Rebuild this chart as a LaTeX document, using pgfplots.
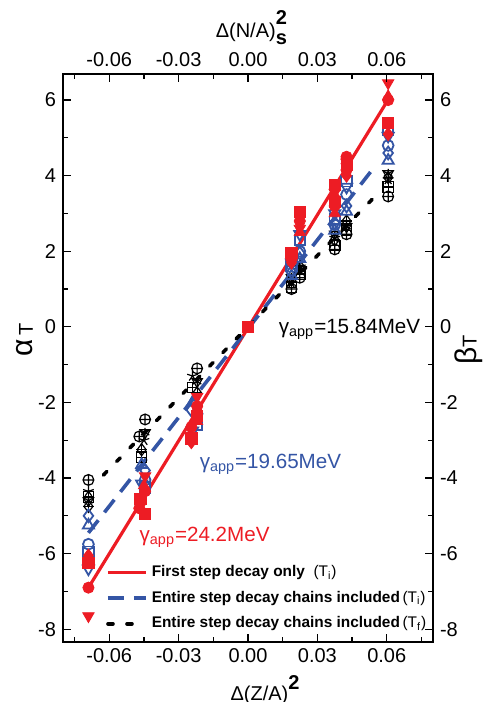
\documentclass[border=0pt]{standalone}
\usepackage{pgfplots}
\usepackage{pgfplotstable}
\pgfplotsset{compat=1.18}
\usepackage{fontspec}
\setmainfont{Liberation Sans}
\usetikzlibrary{plotmarks}
\definecolor{myred}{RGB}{237,28,36}
\definecolor{myblue}{RGB}{52,85,165}

% red series
\pgfplotstableread{
x y
-0.069 -6.25
-0.0465 -4.55
-0.0445 -4.95
-0.0245 -2.95
-0.022 -2.35
0 0
0.0188 1.95
0.0224 3.05
0.0375 3.75
0.0375 3.3
0.0426 4.3
0.0606 5.4
}\redsq
\pgfplotstableread{
x y
-0.069 -6.9
-0.047 -4.8
-0.0445 -4.35
-0.0245 -2.65
-0.022 -2.1
0.0188 1.8
0.0224 2.8
0.0375 3.2
0.0426 4.5
0.0426 4.15
0.0606 6.0
}\redci
\pgfplotstableread{
x y
-0.069 -7.65
-0.0445 -3.95
-0.022 -1.85
0.0188 2.0
0.0224 2.6
0.0375 3.55
0.0426 4.35
0.0606 6.45
}\redtd
\pgfplotstableread{
x y
-0.069 -6.05
-0.0465 -4.7
-0.0245 -3.05
0.0188 1.7
0.0375 3.45
0.0426 4.0
0.0606 5.1
}\reddi
\pgfplotstableread{
x y
-0.069 -6.1
-0.045 -4.2
-0.022 -2.5
0.0188 1.85
0.0224 2.5
0.0375 3.0
0.0426 4.4
0.0606 6.1
}\redtu
% blue series
\pgfplotstableread{
x y
-0.069 -5.95
-0.0445 -4.25
-0.022 -2.6
0 0
0.0188 1.6
0.0224 2.3
0.0375 2.85
0.0426 3.85
0.0606 5.2
}\bluesq
\pgfplotstableread{
x y
-0.069 -5.75
-0.0445 -4.05
-0.022 -2.3
0.0188 1.5
0.0224 2.0
0.0375 2.7
0.0426 3.5
0.0606 4.8
}\blueci
\pgfplotstableread{
x y
-0.069 -5.25
-0.046 -3.65
-0.024 -2.0
0.0188 1.35
0.0224 1.8
0.0375 2.55
0.0426 3.05
0.0606 4.4
}\bluetu
\pgfplotstableread{
x y
-0.069 -5.0
-0.0445 -3.8
-0.0245 -2.2
0.0188 1.45
0.0224 1.95
0.0375 2.75
0.0426 3.2
0.0606 4.6
}\bluedi
\pgfplotstableread{
x y
-0.069 -6.4
-0.046 -4.15
-0.024 -2.75
0.0188 1.7
0.0224 2.45
0.0375 3.0
0.0426 3.7
0.0606 5.05
}\bluetd
% black series
\pgfplotstableread{
x y
-0.069 -4.05
-0.047 -2.9
-0.0445 -2.45
-0.022 -1.1
0.0188 1.0
0.0224 1.3
0.0375 2.05
0.0426 2.45
0.0606 3.45
}\blkop
\pgfplotstableread{
x y
-0.069 -4.35
-0.045 -3.0
-0.024 -1.3
0.0188 1.15
0.0224 1.5
0.0375 2.35
0.0426 2.7
0.0606 3.9
}\blkst
\pgfplotstableread{
x y
-0.069 -4.5
-0.046 -3.45
-0.024 -1.6
0 0
0.0188 1.05
0.0224 1.4
0.0375 2.15
0.0426 2.55
0.0606 3.7
}\blksq
\pgfplotstableread{
x y
-0.069 -4.75
-0.046 -3.25
-0.022 -1.75
0.0188 1.25
0.0224 1.6
0.0375 2.3
0.0426 2.8
0.0606 3.95
}\blkdi
\pgfplotstableread{
x y
-0.069 -4.6
-0.0445 -2.8
-0.022 -1.45
0.0188 1.3
0.0224 1.55
0.0375 2.45
0.0426 2.65
0.0606 4.05
}\blktd

\pgfplotsset{
  base/.style={
    width=185pt, height=283.85pt, scale only axis,
    xmin=-0.08, xmax=0.08, ymin=-8.33, ymax=6.69,
    scaled x ticks=false, scaled y ticks=false,
    xtick={-0.06,-0.03,0,0.03,0.06},
    minor xtick={-0.075,-0.045,-0.015,0.015,0.045,0.075},
    ytick={-8,-6,-4,-2,0,2,4,6},
    minor ytick={-7,-5,-3,-1,1,3,5},
    xticklabels={-0.06,-0.03,0.00,0.03,0.06},
    yticklabels={-8,-6,-4,-2,0,2,4,6},
    tick align=inside,
    major tick length=4pt, minor tick length=2.5pt,
    every tick/.style={black, line width=0.6pt},
    axis line style={line width=0.8pt},
    ticklabel style={font=\fontsize{10}{11}\selectfont},
  }
}

\begin{document}
\begin{tikzpicture}
\begin{axis}[base,
  legend image code/.code={\draw[#1] (0pt,0pt) -- (19pt,0pt);},
  legend style={draw=none, fill=none, at={(axis cs:-0.0615,-6.2)}, anchor=north west,
    font=\bfseries\fontsize{7.7}{9}\selectfont, row sep=1.7pt, inner sep=0pt},
  legend cell align=left,
]
\addplot[myred, line width=1.6pt] coordinates {(-0.069,-6.9) (0.0605,6.0)};
\addlegendentry{First step decay only \ \mdseries(T\textsubscript{i})}
\addplot[myblue, line width=1.8pt, dash pattern=on 8pt off 5pt] coordinates {(-0.069,-5.45) (0.053,4.1)};
\addlegendentry{Entire step decay chains included\,\mdseries(T\textsubscript{i})}
\addplot[black, line width=1.8pt, dash pattern=on 2.5pt off 7pt, line cap=round] coordinates {(-0.0625,-3.92) (0.0565,3.55)};
\addlegendentry{Entire step decay chains included\,\mdseries(T\textsubscript{f})}

% black markers
\addplot[forget plot, only marks, black, mark=oplus, mark size=2.7pt, mark options={line width=0.6pt}] table {\blkop};
\addplot[forget plot, only marks, black, mark=star, mark size=2.8pt, mark options={line width=0.6pt}] table {\blkst};
\addplot[forget plot, only marks, black, mark=square, mark size=2.6pt, mark options={line width=0.6pt}] table {\blksq};
\addplot[forget plot, only marks, black, mark=+, mark size=2.6pt, mark options={line width=0.6pt}] table {\blksq};
\addplot[forget plot, only marks, black, mark=diamond, mark size=3pt, mark options={line width=0.6pt}] table {\blkdi};
\addplot[forget plot, only marks, black, mark=+, mark size=2.6pt, mark options={line width=0.6pt}] table {\blkdi};
\addplot[forget plot, only marks, black, mark=triangle, mark size=3pt, mark options={rotate=180, line width=0.6pt}] table {\blktd};
\addplot[forget plot, only marks, black, mark=asterisk, mark size=2.4pt, mark options={line width=0.6pt}] table {\blktd};
% blue markers
\addplot[forget plot, only marks, myblue, mark=square, mark size=2.6pt, mark options={line width=0.9pt}] table {\bluesq};
\addplot[forget plot, only marks, myblue, mark=o, mark size=2.7pt, mark options={line width=0.9pt}] table {\blueci};
\addplot[forget plot, only marks, myblue, mark=triangle, mark size=3.2pt, mark options={line width=0.9pt}] table {\bluetu};
\addplot[forget plot, only marks, myblue, mark=diamond, mark size=3.2pt, mark options={line width=0.9pt}] table {\bluedi};
\addplot[forget plot, only marks, myblue, mark=triangle, mark size=3.2pt, mark options={rotate=180, line width=0.9pt}] table {\bluetd};
% red markers
\addplot[forget plot, only marks, myred, mark=square*, mark size=2.8pt] table {\redsq};
\addplot[forget plot, only marks, myred, mark=*, mark size=2.8pt] table {\redci};
\addplot[forget plot, only marks, myred, mark=triangle*, mark size=3.3pt, mark options={rotate=180}] table {\redtd};
\addplot[forget plot, only marks, myred, mark=diamond*, mark size=3.3pt] table {\reddi};
\addplot[forget plot, only marks, myred, mark=triangle*, mark size=3.2pt] table {\redtu};

\node[anchor=base west, font=\fontsize{10.3}{12}\selectfont, black] at (axis cs:0.0103,-0.164) {γ\textsubscript{app}=15.84MeV};
\node[anchor=base west, font=\fontsize{10.3}{12}\selectfont, myblue] at (axis cs:-0.0239,-3.74) {γ\textsubscript{app}=19.65MeV};
\node[anchor=base west, font=\fontsize{10.3}{12}\selectfont, myred] at (axis cs:-0.0499,-5.69) {γ\textsubscript{app}=24.2MeV};
\end{axis}
\begin{axis}[base, clip=false,
  xticklabel pos=right, yticklabel pos=right]
\node[font=\fontsize{10}{11}\selectfont] at (rel axis cs:0.546,-0.085) {Δ(Z/A)\raisebox{1.1ex}{\bfseries 2}};
\node[font=\fontsize{10}{11}\selectfont] at (rel axis cs:0.524,1.081) {Δ(N/A)\makebox[0pt][l]{\raisebox{1.2ex}{\bfseries 2}}\raisebox{-0.7ex}{\bfseries s}\phantom{2}};
\node[rotate=90] at (rel axis cs:-0.1027,0.5315) {\fontsize{15}{16}\selectfont α\fontsize{10}{11}\selectfont\,T};
\node[rotate=90] at (rel axis cs:1.097,0.514) {\fontsize{15}{16}\selectfont β\fontsize{10}{11}\selectfont T};
\end{axis}
\pgfresetboundingbox
\path ([shift={(-31.5pt,-30.15pt)}]current axis.south west) rectangle ([shift={(29pt,37pt)}]current axis.north east);
\end{tikzpicture}
\end{document}
